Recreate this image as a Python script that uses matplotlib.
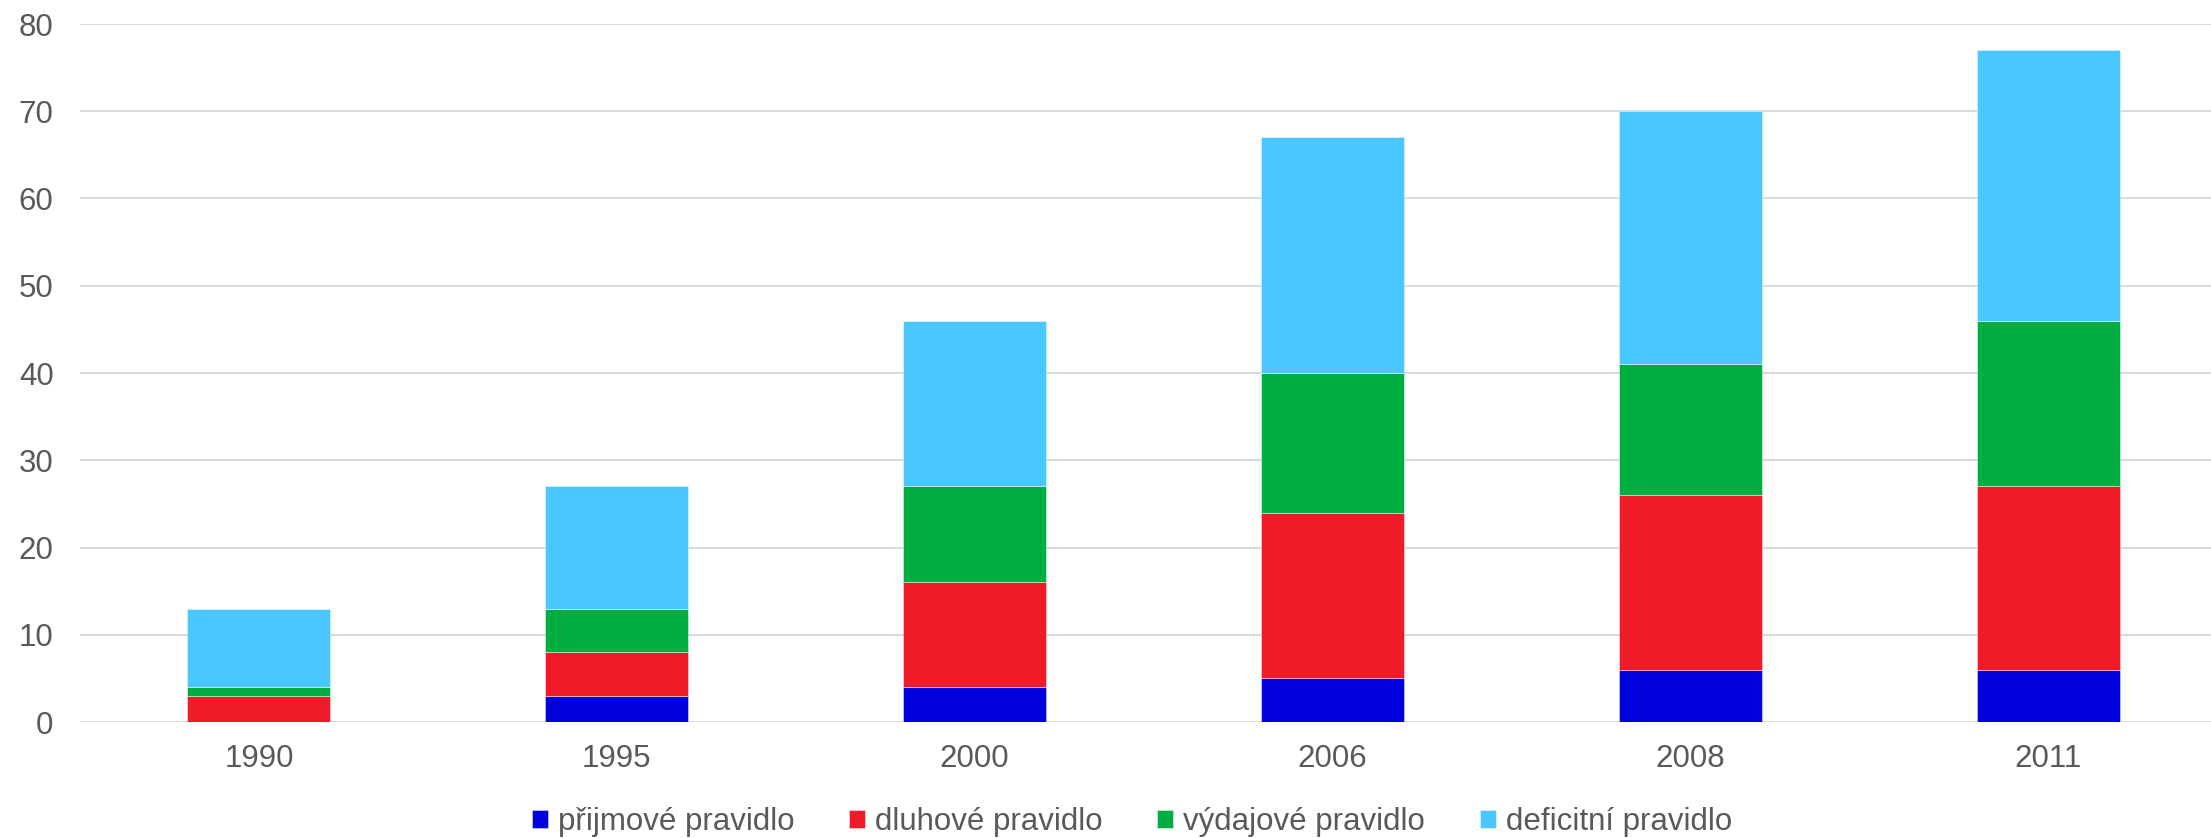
import matplotlib
matplotlib.use("Agg")
import matplotlib.pyplot as plt
import numpy as np

years = ["1990", "1995", "2000", "2006", "2008", "2011"]
series_names = ["přijmové pravidlo", "dluhové pravidlo", "výdajové pravidlo", "deficitní pravidlo"]
prijmove = [0, 3, 4, 5, 6, 6]
dluhove = [3, 5, 12, 19, 20, 21]
vydajove = [1, 5, 11, 16, 15, 19]
deficitni = [9, 14, 19, 27, 29, 31]
colors = ["#0000DC", "#EF1B28", "#00AE42", "#4BC7FF"]

plt.rcParams['font.family'] = ['Liberation Sans', 'DejaVu Sans']
W, H = 2211, 838
fig = plt.figure(figsize=(W / 100, H / 100), dpi=100)
left, right = 80, 2227
top, bottom = 24, 722
ax = fig.add_axes([left / W, 1 - bottom / H, (right - left) / W, (bottom - top) / H])

x = np.arange(len(years))
bottoms = np.zeros(len(years))
handles = []
for vals, name, c in zip([prijmove, dluhove, vydajove, deficitni], series_names, colors):
    b = ax.bar(x, vals, width=0.4, bottom=bottoms, color=c, label=name,
               edgecolor=(1, 1, 1, 0.5), linewidth=0.6, zorder=3)
    handles.append(b)
    bottoms += np.array(vals)

ax.set_xlim(-0.5, len(years) - 0.5)
ax.set_ylim(0, 80)
ax.set_yticks(range(0, 81, 10))
ax.set_xticks(x)
ax.set_xticklabels(years)
ax.grid(axis='y', color='#d9d9d9', linewidth=1.4, zorder=0)
ax.set_axisbelow(True)
for s in ax.spines.values():
    s.set_visible(False)
ax.tick_params(axis='both', length=0, labelsize=22.5, colors='#595959')
ax.tick_params(axis='y', pad=19)
ax.tick_params(axis='x', pad=16)

fig.legend(handles=handles, labels=series_names, loc='center',
           bbox_to_anchor=(1132 / W, 1 - 822 / H), ncol=4, frameon=False,
           fontsize=22.5, labelcolor='#595959', handlelength=0.5, handleheight=0.5,
           handletextpad=0.33, columnspacing=1.75, borderaxespad=0, borderpad=0)

fig.savefig("out.png", dpi=100)
